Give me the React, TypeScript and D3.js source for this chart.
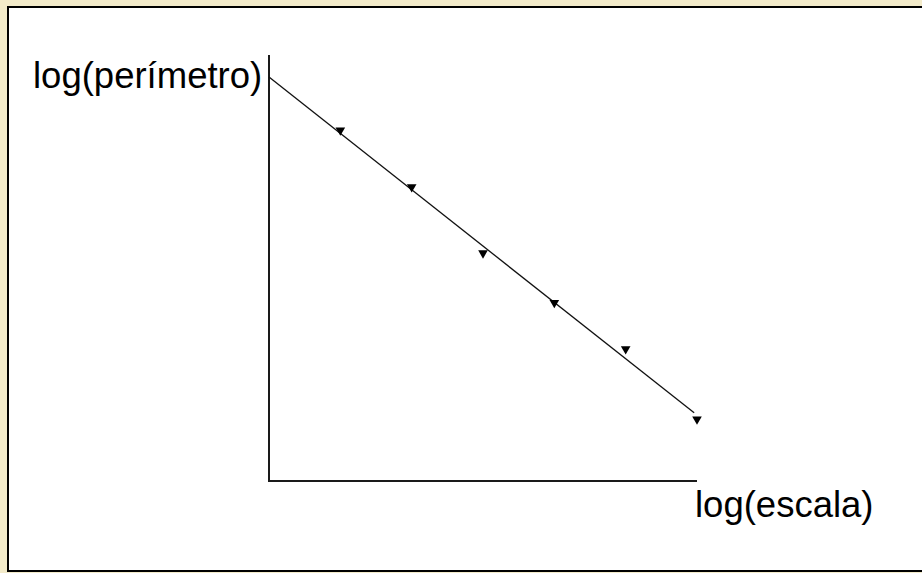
import React from "react";
import * as d3 from "d3";

// Measured points: log(escala) vs log(perímetro)
const logScale = [1, 2, 3, 4, 5, 6];
const logPerimeter = [4.94, 4.14, 3.21, 2.51, 1.86, 0.87];

// Fitted straight line, given by its two end points
const fitX = [0, 5.96];
const fitY = [5.69, 0.96];

const yLabel = "log(perímetro)";
const xLabel = "log(escala)";

const W = 922;
const H = 573;

export default function App() {
  const x = d3.scaleLinear().domain([0, 6]).range([269, 697]);
  const y = d3.scaleLinear().domain([0, 6]).range([481, 55]);

  const line = d3
    .line<[number, number]>()
    .x((d) => x(d[0]))
    .y((d) => y(d[1]));
  const fitPts: [number, number][] = fitX.map((v, i) => [v, fitY[i]]);

  const tri = d3.symbol().type(d3.symbolTriangle).size(40)() as string;

  const [x0, x1] = x.range();
  const [yb, yt] = y.range();

  return (
    <svg
      width={W}
      height={H}
      style={{ position: "absolute", left: 0, top: 0, display: "block" }}
      fontFamily="'Liberation Sans', Arial, sans-serif"
    >
      <rect x={0} y={0} width={W} height={H} fill="#f3ebca" />
      <rect x={8} y={7} width={W + 10} height={564} fill="#ffffff" stroke="#000" strokeWidth={2} />

      {/* axes */}
      <line x1={x0} y1={yt} x2={x0} y2={yb + 1} stroke="#1a1a1a" strokeWidth={2} />
      <line x1={x0} y1={yb} x2={x1} y2={yb} stroke="#1a1a1a" strokeWidth={2} />

      {/* fitted line */}
      <path d={line(fitPts) ?? ""} fill="none" stroke="#111" strokeWidth={1.3} />

      {/* data markers */}
      {logScale.map((v, i) => (
        <path
          key={i}
          d={tri}
          transform={`translate(${x(v)},${y(logPerimeter[i])}) rotate(180)`}
          fill="#000"
        />
      ))}

      <text x={33} y={88} fontSize={36.5} fill="#000">
        {yLabel}
      </text>
      <text x={695} y={517} fontSize={36.5} fill="#000">
        {xLabel}
      </text>
    </svg>
  );
}
